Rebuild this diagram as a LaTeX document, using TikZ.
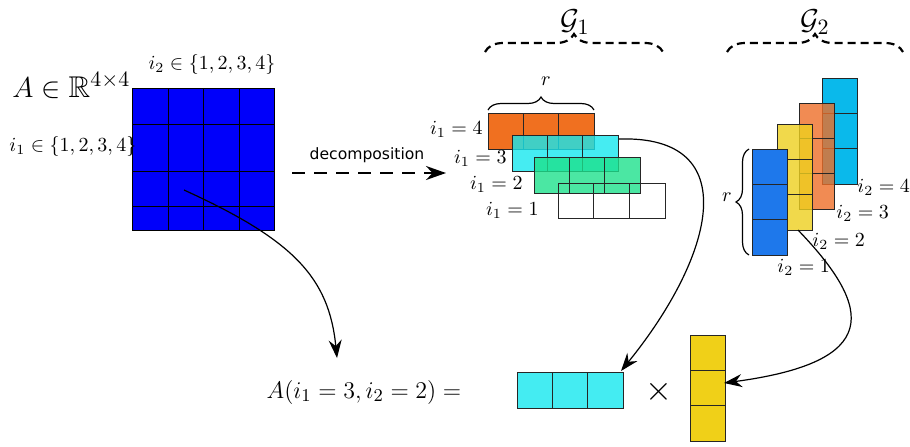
\documentclass[tikz,border=0pt]{standalone}
\usepackage{amssymb}
\usepackage{fontspec}
\newfontfamily\dejavu{DejaVu Sans}
\usetikzlibrary{arrows.meta,decorations.pathreplacing}
\definecolor{Ablue}{RGB}{0,0,250}
\definecolor{orA}{RGB}{240,112,32}
\definecolor{cyA}{RGB}{22,231,239}
\definecolor{grA}{RGB}{30,225,140}
\definecolor{blB}{RGB}{30,120,235}
\definecolor{yeB}{RGB}{238,208,30}
\definecolor{orB}{RGB}{238,110,40}
\definecolor{cyB}{RGB}{10,185,235}
\definecolor{cyC}{RGB}{68,236,242}
\definecolor{yeC}{RGB}{240,208,24}
\tikzset{
  cellline/.style={draw=black!85, line width=0.5pt},
  conn/.style={line width=0.6pt, -{Stealth[length=9pt,width=6.5pt,inset=3pt]}},
  gbrace/.style={decorate, decoration={brace, amplitude=9pt}, line width=1.1pt, dash pattern=on 4pt off 2.5pt},
  rbrace/.style={decorate, decoration={brace, amplitude=6.5pt}, line width=0.6pt},
  lbl/.style={inner sep=0pt},
}
\begin{document}
\begin{tikzpicture}[x=0.5pt,y=-0.5pt]
\useasboundingbox (0,0) rectangle (910,446);
% matrix A
\fill[Ablue] (132,88) rectangle (274,230);
\draw[cellline,draw=black] (132,88) rectangle (274,230);
\foreach \x in {168,203,239} \draw[cellline,draw=black] (\x,88) -- (\x,230);
\foreach \y in {124,171,206} \draw[cellline,draw=black] (132,\y) -- (274,\y);
\coordinate (Ain) at (184,190);
\node[lbl, anchor=base west] (Alab) at (12,97) {\fontsize{15}{17}\selectfont $A\in\mathbb{R}^{4\times 4}$};
\node[lbl] (i2set) at (212,64) {$i_2\in\{1,2,3,4\}$};
\node[lbl, anchor=west] (i1set) at (9,146) {$i_1\in\{1,2,3,4\}$};
% decomposition arrow
\coordinate (decS) at (292,173);
\coordinate (decE) at (446,173);
\draw[line width=1pt, dash pattern=on 6.5pt off 4.5pt, -{Stealth[length=10pt,width=7pt]}] (decS) -- (decE);
\node[lbl] (declab) at (367,155) {\fontsize{7.8}{9}\selectfont\dejavu decomposition};
% G1 rows
\foreach \x/\y/\c/\o in {488/113/orA/1, 512/135/cyA/0.8, 534/157/grA/0.8} {
  \fill[\c, fill opacity=\o] (\x,\y) rectangle ++(106,36);
  \draw[cellline] (\x,\y) rectangle ++(106,36) (\x+35.3,\y) -- ++(0,36) (\x+70.7,\y) -- ++(0,36);
}
\draw[cellline] (558,183) rectangle ++(107,35) (593.7,183) -- ++(0,35) (629.3,183) -- ++(0,35);
\node[lbl, anchor=east] (l14) at (483,129) {$i_1=4$};
\node[lbl, anchor=east] (l13) at (507,158) {$i_1=3$};
\node[lbl, anchor=east] (l12) at (523,184) {$i_1=2$};
\node[lbl, anchor=east] (l11) at (539,210) {$i_1=1$};
\draw[rbrace] (488,110) -- (594,110);
\node[lbl] (r1) at (546,81) {$r$};
\draw[gbrace] (485,52) -- (663,52);
\node[lbl] (G1) at (575,22) {\fontsize{15}{18}\selectfont $\mathcal{G}_1$};
% G2 columns
\foreach \x/\y/\c/\o in {822/78/cyB/1, 799/103/orB/0.8, 777/124/yeB/0.8, 752/149/blB/1} {
  \fill[\c, fill opacity=\o] (\x,\y) rectangle ++(35.5,106);
  \draw[cellline] (\x,\y) rectangle ++(35.5,106) (\x,\y+35.3) -- ++(35.5,0) (\x,\y+70.7) -- ++(35.5,0);
}
\node[lbl, anchor=west] (l24) at (857,187) {$i_2=4$};
\node[lbl, anchor=west] (l23) at (836,213) {$i_2=3$};
\node[lbl, anchor=west] (l22) at (812,241) {$i_2=2$};
\node[lbl, anchor=west] (l21) at (777,267) {$i_2=1$};
\draw[rbrace] (749,255) -- (749,149);
\node[lbl] (r2) at (727,197) {$r$};
\draw[gbrace] (727,52) -- (903,52);
\node[lbl] (G2) at (815,22) {\fontsize{15}{18}\selectfont $\mathcal{G}_2$};
% bottom
\node[lbl] (eq) at (364,392) {\fontsize{13.2}{16}\selectfont $A(i_1=3,i_2=2)=$};
\fill[cyC] (517,372) rectangle ++(106,36);
\draw[cellline] (517,372) rectangle ++(106,36) (552.3,372) -- ++(0,36) (587.7,372) -- ++(0,36);
\node[lbl] (times) at (659,392) {\fontsize{17}{20}\selectfont $\times$};
\fill[yeC] (690,335) rectangle ++(35.5,106);
\draw[cellline] (690,335) rectangle ++(35.5,106) (690,370.3) -- ++(35.5,0) (690,405.7) -- ++(35.5,0);
% connectors
\coordinate (eqtop) at (337,358);
\coordinate (cyS) at (619,139);
\coordinate (cyE) at (621,371);
\coordinate (yeS) at (798,230);
\coordinate (yeE) at (724,383);
\draw[conn] (Ain) .. controls (294,240) and (329,278) .. (eqtop);
\draw[conn] (cyS) .. controls (745,135) and (715,255) .. (cyE);
\draw[conn] (yeS) .. controls (875,310) and (880,362) .. (yeE);
\end{tikzpicture}
\end{document}
